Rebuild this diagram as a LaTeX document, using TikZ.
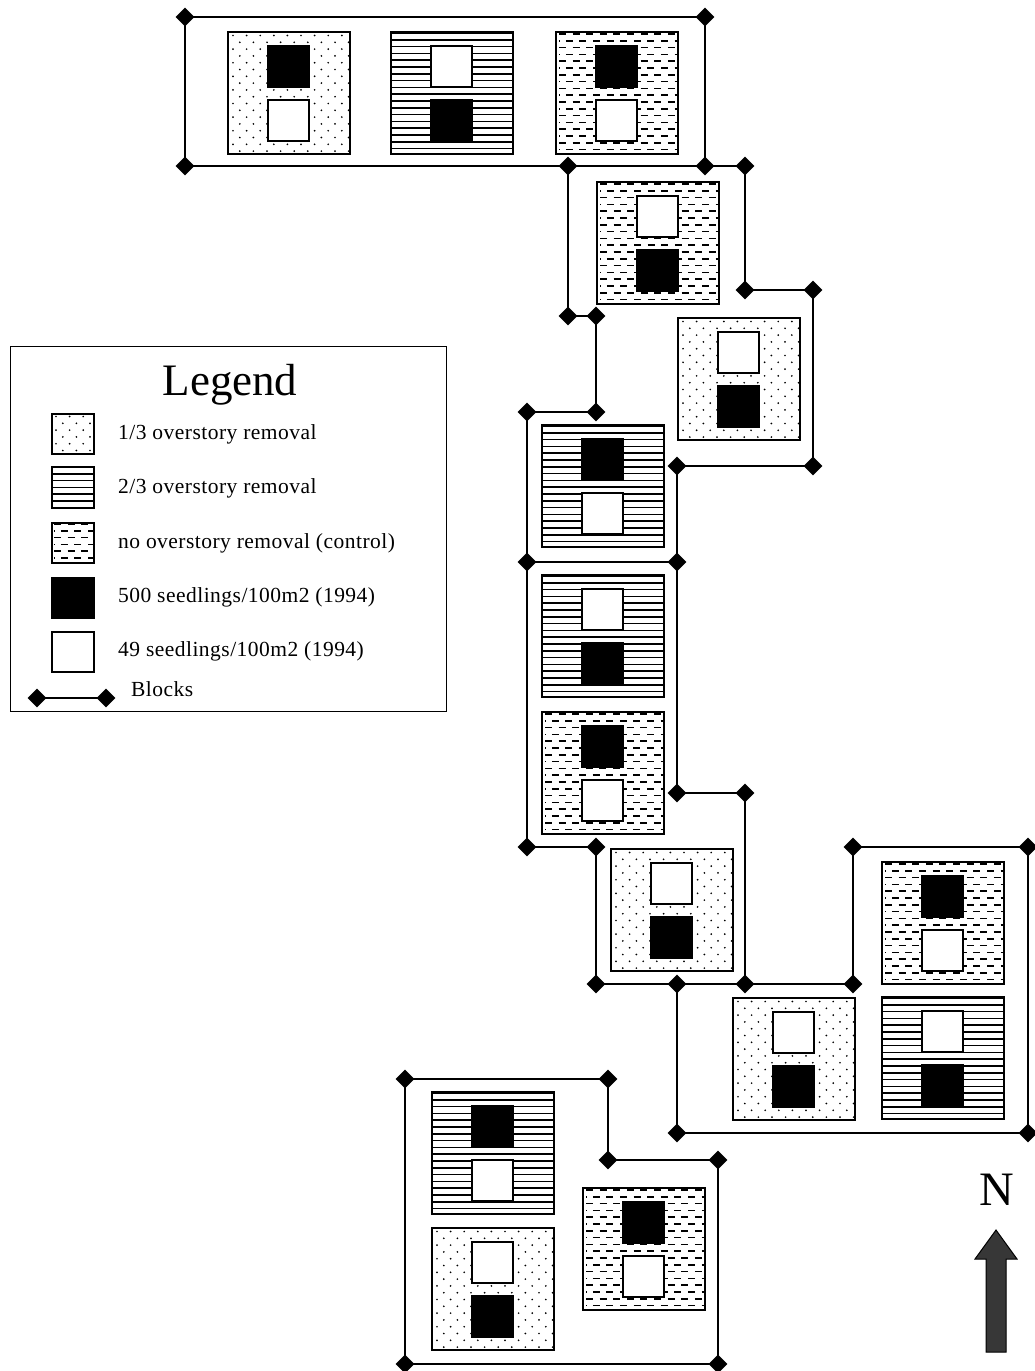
\documentclass[tikz,border=0pt]{standalone}
\usepackage{fontspec}
\setmainfont{Liberation Serif}
\newfontfamily\legfont[LetterSpace=2.2]{Liberation Serif}
\usetikzlibrary{shapes.geometric}
\definecolor{arrowgray}{RGB}{55,55,55}
\tikzset{
  dmd/.style={diamond, fill=black, inner sep=0pt, minimum size=19pt},
  blk/.style={line width=2pt, black},
  plotbox/.style={draw, line width=2pt, minimum width=122pt, minimum height=122pt, inner sep=0pt, outer sep=0pt},
  sq/.style={draw, line width=2pt, minimum size=41pt, inner sep=0pt, outer sep=0pt},
  legtxt/.style={anchor=base west, inner sep=0pt, font=\legfont\fontsize{21.5}{24}\selectfont},
}
% patterns: #1 x, #2 y, #3 width, #4 height
\newcommand\patdot[4]{%
  \pgfmathtruncatemacro\nr{(#4-3)/6.8}%
  \pgfmathtruncatemacro\nc{#3/13.6}%
  \foreach \k in {0,...,\nr}{\foreach \j in {0,...,\nc}{%
    \fill ({#1+5+\j*13.6+mod(\k,2)*6.8},{#2+3.5+\k*6.8}) circle (0.95pt);}}}
\newcommand\pathl[4]{%
  \pgfmathtruncatemacro\nr{#4/6.8}%
  \foreach \k in {0,...,\nr}{\draw[line width=1.5pt] (#1,{#2+1+\k*6.8}) -- ++(#3,0);}}
\newcommand\patdash[4]{%
  \pgfmathtruncatemacro\nr{(#4-3)/6.8}%
  \foreach \k in {0,...,\nr}{%
    \pgfmathsetmacro\ph{mod(\k,2)*6.8}%
    \draw[line width=1.7pt, dash pattern=on 7pt off 6.6pt, dash phase=\ph pt] ({#1+3},{#2+2+\k*6.8}) -- ++(#3,0);}}
% plot: name, x, y, pattern, top fill, bottom fill
\newcommand\pplot[6]{%
  \begin{scope}\clip (#2,#3) rectangle ++(122,122);\csname pat#4\endcsname{#2}{#3}{122}{122}\end{scope}
  \node[plotbox, anchor=north west] (#1) at (#2,#3) {};
  \node[sq, fill=#5, anchor=north west] (#1t) at ({#2+40},{#3+14}) {};
  \node[sq, fill=#6, anchor=north west] (#1b) at ({#2+40},{#3+68}) {};
}
\begin{document}
\begin{tikzpicture}[x=1pt,y=-1pt]
\useasboundingbox (0,0) rectangle (1035,1371);
\fill[white] (0,0) rectangle (1035,1371);

% block corner coordinates
\coordinate (d1) at (185,17);
\coordinate (d2) at (705,17);
\coordinate (d3) at (185,166);
\coordinate (d4) at (705,166);
\coordinate (d5) at (568,166);
\coordinate (d6) at (745,166);
\coordinate (d7) at (745,290);
\coordinate (d8) at (813,290);
\coordinate (d9) at (813,466);
\coordinate (d10) at (677,466);
\coordinate (d11) at (568,316);
\coordinate (d12) at (596,316);
\coordinate (d13) at (596,412);
\coordinate (d14) at (527,412);
\coordinate (d15) at (527,562);
\coordinate (d16) at (677,562);
\coordinate (d19) at (677,793);
\coordinate (d20) at (745,793);
\coordinate (d21) at (527,847);
\coordinate (d22) at (596,847);
\coordinate (d23) at (596,984);
\coordinate (d24) at (745,984);
\coordinate (d25) at (853,984);
\coordinate (d26) at (853,847);
\coordinate (d27) at (1028,847);
\coordinate (d28) at (1028,1133);
\coordinate (d29) at (677,1133);
\coordinate (d30) at (677,984);
\coordinate (d31) at (405,1079);
\coordinate (d32) at (608,1079);
\coordinate (d33) at (608,1160);
\coordinate (d34) at (718,1160);
\coordinate (d35) at (718,1364);
\coordinate (d36) at (405,1364);

% plots
\pplot{p1}{228}{32}{dot}{black}{white}
\pplot{p2}{391}{32}{hl}{white}{black}
\pplot{p3}{556}{32}{dash}{black}{white}
\pplot{p4}{597}{182}{dash}{white}{black}
\pplot{p5}{678}{318}{dot}{white}{black}
\pplot{p6}{542}{425}{hl}{black}{white}
\pplot{p7}{542}{575}{hl}{white}{black}
\pplot{p8}{542}{712}{dash}{black}{white}
\pplot{p9}{611}{849}{dot}{white}{black}
\pplot{p10}{882}{862}{dash}{black}{white}
\pplot{p11}{733}{998}{dot}{white}{black}
\pplot{p12}{882}{997}{hl}{white}{black}
\pplot{p13}{432}{1092}{hl}{black}{white}
\pplot{p14}{432}{1228}{dot}{white}{black}
\pplot{p15}{583}{1188}{dash}{black}{white}

% block outlines
\draw[blk] (d1)--(d2)--(d4)--(d3)--cycle;
\draw[blk] (d4)--(d6);
\draw[blk] (d6)--(d7)--(d8)--(d9)--(d10)--(d16)--(d19)--(d20)--(d24);
\draw[blk] (d5)--(d11)--(d12)--(d13)--(d14)--(d15)--(d21);
\draw[blk] (d21)--(d22)--(d23)--(d30)--(d24)--(d25);
\draw[blk] (d15)--(d16);
\draw[blk] (d26)--(d25);
\draw[blk] (d26)--(d27)--(d28)--(d29)--(d30);
\draw[blk] (d31)--(d32)--(d33)--(d34)--(d35)--(d36)--cycle;
\foreach \n in {d1,d2,d3,d4,d5,d6,d7,d8,d9,d10,d11,d12,d13,d14,d15,d16,d19,d20,d21,d22,d23,d24,d25,d26,d27,d28,d29,d30,d31,d32,d33,d34,d35,d36}
  \node[dmd] at (\n) {};

% legend
\node[draw, line width=1.4pt, minimum width=436pt, minimum height=365pt, inner sep=0pt, anchor=north west] (legend) at (10,346) {};
\node[anchor=base, inner sep=0pt, font=\fontsize{45}{50}\selectfont] (ltitle) at (230,395) {Legend};
\begin{scope}\clip (51,413) rectangle ++(42,40);\patdot{51}{413}{42}{40}\end{scope}
\node[draw, line width=1.5pt, minimum width=42pt, minimum height=40pt, inner sep=0pt, anchor=north west] (sw1) at (51,413) {};
\begin{scope}\clip (51,466) rectangle ++(42,41);\pathl{51}{466}{42}{41}\end{scope}
\node[draw, line width=1.5pt, minimum width=42pt, minimum height=41pt, inner sep=0pt, anchor=north west] (sw2) at (51,466) {};
\begin{scope}\clip (51,522) rectangle ++(42,40);\patdash{51}{522}{42}{40}\end{scope}
\node[draw, line width=1.5pt, minimum width=42pt, minimum height=40pt, inner sep=0pt, anchor=north west] (sw3) at (51,522) {};
\node[draw, fill=black, line width=1.5pt, minimum width=42pt, minimum height=40pt, inner sep=0pt, anchor=north west] (sw4) at (51,577) {};
\node[draw, fill=white, line width=1.5pt, minimum width=42pt, minimum height=40pt, inner sep=0pt, anchor=north west] (sw5) at (51,631) {};
\node[legtxt] (t1) at (118,439) {1/3 overstory removal};
\node[legtxt] (t2) at (118,493) {2/3 overstory removal};
\node[legtxt] (t3) at (118,548) {no overstory removal (control)};
\node[legtxt] (t4) at (118,602) {500 seedlings/100m2 (1994)};
\node[legtxt] (t5) at (118,656) {49 seedlings/100m2 (1994)};
\coordinate (lb1) at (37,698);
\coordinate (lb2) at (106,698);
\draw[line width=1.5pt] (lb1)--(lb2);
\node[dmd] at (lb1) {};
\node[dmd] at (lb2) {};
\node[legtxt] (t6) at (131,696) {Blocks};

% north arrow
\node[inner sep=0pt, font=\fontsize{48}{50}\selectfont] (north) at (997,1190) {N};
\draw[line width=1pt, fill=arrowgray] (986,1352) -- (986,1259) -- (975,1259) -- (996,1230) -- (1017,1259) -- (1006,1259) -- (1006,1352) -- cycle;
\end{tikzpicture}
\end{document}
